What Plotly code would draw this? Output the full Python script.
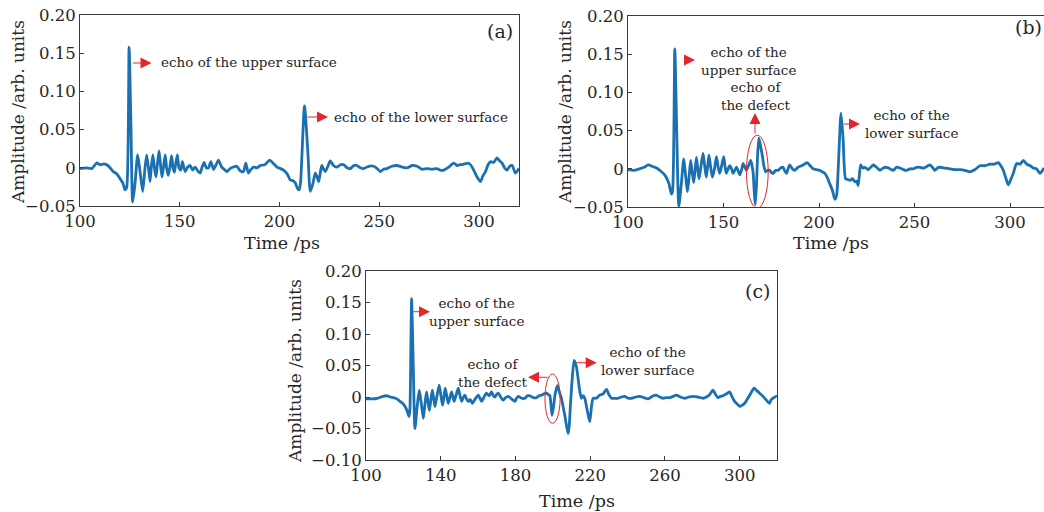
import plotly.graph_objects as go

# ---------------- data ----------------
t_a = [100, 103, 106, 108.4, 110, 112, 114, 116.7, 118.5, 120, 121.5, 122.6, 123.4, 124.6, 125.5, 126.4,
       127.6, 128.9, 130.1, 131.4, 132.4, 133.4, 134.3, 135.1, 135.7, 136.5, 137.3, 138.1, 138.8, 139.6,
       140.3, 141.1, 141.9, 142.7, 143.4, 144.2, 145.0, 145.9, 146.6, 147.3, 148.0, 148.8, 149.6, 150.5,
       151.3, 152.7, 154, 155.2, 156.5, 157.7, 159, 160.2, 161.2, 162.2, 163.3, 164.4, 165.6, 166.9,
       168.2, 169.4, 171, 172.3, 173.6, 175.2, 176.9, 178.6, 180.3, 181.9, 183.1, 184.4, 185.7, 187,
       188.7, 190.3, 192.6, 195, 196.8, 198.7, 200.4, 202, 203.8, 205.4, 206.8, 207.9, 209.0, 209.8,
       210.5, 212.5, 214.2, 215.4, 216.6, 217.9, 218.8, 219.6, 220.5, 221.2, 222.1, 222.9, 224.2, 225.4,
       227, 228.8, 230.5, 232.1, 233.8, 235.5, 237.2, 238.8, 240.5, 242.1, 244.6, 247.2, 248.9, 250.5,
       252.1, 253.8, 256.3, 258.9, 261.4, 263.9, 266.4, 268.9, 271.4, 273.9, 276.4, 278.9, 280.6, 282.3,
       284.8, 287.3, 289, 290.6, 292.7, 294.8, 296, 297.3, 299, 300.7, 302, 303.2, 304.5, 305.7, 307.3,
       309, 310.3, 311.5, 312.8, 314, 315.3, 316.6, 318.2, 320]
amp_a = [-0.001, 0.0, -0.001, 0.0065, 0.004, 0.005, 0.003, -0.005, -0.008, -0.014, -0.02, -0.029, -0.026,
         0.158, 0.06, -0.045, -0.02, 0.017, -0.005, -0.031, -0.005, 0.017, 0.0, -0.018, 0.0, 0.017, 0.0,
         -0.012, 0.005, 0.022, 0.005, -0.012, 0.002, 0.017, 0.0, -0.010, 0.0, 0.016, 0.0, -0.006, 0.006,
         0.017, 0.0, -0.003, 0.008, -0.005, 0.001, 0.003, -0.003, 0.001, -0.004, -0.007, 0.001, 0.007, 0.0,
         0.0, 0.008, -0.002, 0.004, 0.010, 0.001, -0.002, -0.005, -0.001, 0.001, 0.002, -0.004, -0.005,
         0.006, -0.007, -0.002, 0.001, 0.0, 0.003, 0.004, 0.010, 0.006, 0.001, -0.001, -0.003, -0.008,
         -0.016, -0.017, -0.020, -0.027, -0.029, -0.02, 0.081, 0.02, -0.031, -0.022, -0.007, -0.012, -0.018,
         -0.005, 0.003, -0.002, -0.005, 0.002, 0.009, 0.003, 0.001, 0.004, 0.004, 0.0, -0.001, 0.003, 0.003,
         0.0, -0.001, 0.002, 0.002, -0.001, -0.005, -0.002, -0.001, 0.002, 0.003, 0.001, 0.0, 0.003, 0.002,
         -0.002, -0.001, -0.002, -0.001, -0.003, -0.003, 0.001, 0.006, 0.003, 0.004, 0.005, 0.006, 0.003,
         -0.003, -0.012, -0.018, -0.01, -0.005, 0.004, 0.008, 0.007, 0.013, 0.009, 0.006, 0.0, -0.003,
         0.002, 0.003, -0.007, -0.001]

t_b = [100, 103, 106, 108.5, 110.5, 113, 115, 116.6, 118.5, 120, 121.5, 122.7, 123.3, 124.5, 125.5, 126.6,
       127.9, 129.2, 130.2, 131.1, 132.0, 132.8, 133.6, 134.4, 135.1, 135.8, 136.5, 137.2, 138.3, 139.3,
       140.2, 141.0, 141.7, 142.4, 143.3, 144.2, 145.3, 146.3, 147.2, 148.0, 149.1, 150.1, 150.8, 151.5,
       152.4, 153.3, 154.2, 155.0, 155.9, 156.8, 157.7, 158.5, 159.4, 160.3, 161.2, 162.0, 163.2, 164.3,
       165.0, 165.5, 166.1, 166.6, 167.3, 167.8, 168.5, 169.4, 170.4, 171.2, 172.1, 173.2, 174.2, 175.1,
       176, 177.3, 178.6, 179.9, 181.2, 182.1, 183, 183.8, 184.7, 186, 187.3, 189, 190.8, 192.3, 193.8,
       195.4, 196.9, 198.6, 200.4, 201.8, 203.1, 204.4, 205.7, 207, 208.3, 209.2, 210.4, 211.5, 212.6,
       213.9, 215, 216.2, 217.5, 218.8, 219.7, 220.5, 221.8, 222.9, 224, 225.8, 227.1, 228.4, 230.1,
       231.9, 233.6, 235.4, 237.1, 238.9, 240.6, 242.4, 244.1, 245.9, 247.6, 249.4, 251.1, 252.9, 254.6,
       256.4, 258.1, 259.4, 260.7, 262, 263.3, 265.9, 268.6, 271.2, 273.8, 276.4, 279.1, 281.7, 284.3,
       286.9, 289.5, 291.7, 293.9, 295.2, 296.5, 297.8, 299.1, 300.4, 301.7, 303.5, 305.2, 307, 308.8,
       310.5, 312.2, 313.9, 315.7, 317.8]
amp_b = [-0.001, -0.002, 0.0, 0.002, 0.005, 0.003, 0.001, -0.002, -0.006, -0.011, -0.02, -0.033, -0.03,
         0.157, 0.05, -0.049, -0.02, 0.013, -0.01, -0.030, -0.01, 0.011, -0.005, -0.018, -0.002, 0.015,
         0.0, -0.013, 0.005, 0.020, 0.003, -0.011, 0.003, 0.018, 0.002, -0.011, 0.0, 0.016, 0.002, -0.006,
         0.005, 0.016, 0.003, -0.006, 0.0, 0.004, 0.0, -0.006, -0.002, 0.002, -0.003, -0.008, -0.002, 0.007,
         0.002, -0.002, 0.005, 0.011, 0.003, -0.005, -0.03, -0.047, -0.02, 0.015, 0.040, 0.03, 0.016, 0.003,
         -0.004, -0.002, -0.002, -0.005, -0.006, -0.002, -0.002, 0.001, 0.002, -0.003, -0.006, 0.0, 0.005,
         0.0, -0.002, 0.002, 0.004, 0.006, 0.008, 0.004, 0.0, -0.001, -0.002, -0.004, -0.006, -0.012,
         -0.020, -0.028, -0.040, -0.035, 0.02, 0.073, 0.04, -0.013, -0.014, -0.015, -0.013, -0.017, -0.016,
         -0.022, 0.005, 0.001, 0.002, -0.001, 0.002, 0.005, 0.002, -0.002, 0.001, 0.002, 0.0, -0.002, 0.002,
         0.001, -0.001, -0.002, 0.0, 0.0, 0.002, 0.002, 0.001, 0.003, 0.005, 0.002, -0.002, 0.001, 0.002,
         0.001, 0.0, -0.001, -0.001, -0.002, -0.004, -0.001, 0.004, 0.004, 0.006, 0.006, 0.008, 0.004,
         -0.002, -0.012, -0.021, -0.014, -0.006, 0.007, 0.006, 0.011, 0.006, 0.004, 0.001, 0.0, -0.006,
         0.001]

t_c = [100, 103, 106, 109, 111, 113, 114.6, 116.5, 118.2, 119.6, 120.9, 122, 123, 123.5, 124.4, 125.3,
       126.2, 127.4, 128.5, 129.6, 130.7, 131.6, 132.4, 133.2, 133.9, 134.7, 135.5, 136.2, 136.9, 138.0,
       139.2, 140.1, 141.0, 141.7, 142.4, 143.2, 144.0, 144.9, 145.8, 146.5, 147.2, 148.3, 149.4, 150.3,
       151.2, 152.0, 152.9, 153.8, 154.7, 155.8, 156.9, 158.5, 160.1, 161.0, 161.9, 163.2, 164.5, 165.8,
       167.2, 168.1, 169, 169.9, 170.8, 172.1, 173.4, 174.7, 176.1, 177.9, 179.7, 180.6, 181.5, 183.3,
       185, 186.4, 187.7, 189.5, 191.3, 192.6, 193.9, 195.3, 196.6, 197.5, 198.4, 199.0, 199.6, 200.4,
       201.1, 201.8, 202.5, 203.5, 204.6, 205.5, 206.4, 207.3, 208.2, 208.8, 209.4, 210.4, 211.4, 212.5,
       213.5, 214.4, 215.3, 216.2, 217.1, 218.0, 218.9, 219.8, 220.7, 221.6, 223.3, 225.1, 226.9, 228.7,
       230.0, 231.4, 233.2, 234.9, 236.7, 238.5, 240.3, 242.1, 244.3, 246.5, 248.7, 251, 253.2, 255.4,
       257.2, 259, 260.8, 262.6, 264.4, 266.1, 268.3, 270.6, 272.8, 275, 277.7, 280.4, 282.2, 284, 285.7,
       287.1, 288.4, 289.7, 291.1, 292.9, 294.6, 296, 297.3, 298.7, 300, 301.4, 302.7, 304.4, 306, 307.7,
       309.2, 310.7, 312.5, 314.3, 315.2, 316, 316.9, 317.8, 319.6, 320]
amp_c = [-0.003, -0.003, -0.002, 0.001, 0.002, 0.0, -0.001, -0.003, -0.007, -0.010, -0.015, -0.022, -0.031,
         -0.02, 0.156, 0.05, -0.050, -0.015, 0.011, -0.01, -0.034, -0.01, 0.008, -0.008, -0.021, -0.005,
         0.011, -0.002, -0.015, 0.002, 0.019, 0.002, -0.013, 0.0, 0.014, 0.002, -0.010, -0.001, 0.008, 0.0,
         -0.007, 0.004, 0.014, 0.002, -0.007, -0.001, 0.003, -0.003, -0.007, -0.004, -0.010, -0.003, 0.003,
         -0.002, -0.007, 0.0, 0.006, 0.002, 0.008, 0.002, 0.0, 0.004, 0.006, 0.0, -0.005, -0.001, 0.001,
         -0.003, -0.007, -0.002, 0.001, -0.002, -0.002, 0.002, 0.002, -0.001, -0.001, 0.002, 0.003, 0.005,
         0.006, 0.004, 0.002, -0.012, -0.029, -0.015, 0.002, 0.012, 0.018, 0.008, -0.002, -0.015, -0.029,
         -0.045, -0.058, -0.045, -0.014, 0.03, 0.058, 0.05, 0.030, 0.010, -0.002, 0.002, -0.002, -0.015,
         -0.028, -0.039, -0.015, -0.002, -0.002, 0.003, 0.005, 0.012, 0.004, -0.002, -0.002, -0.002, 0.0,
         0.001, -0.002, -0.002, 0.0, 0.001, -0.001, -0.003, 0.001, 0.003, 0.0, -0.002, -0.001, -0.001, 0.001,
         0.003, 0.0, -0.002, 0.0, 0.001, 0.0, -0.002, 0.0, 0.004, 0.011, 0.004, -0.001, 0.001, 0.002, 0.005,
         0.008, 0.0, -0.007, -0.011, -0.015, -0.013, -0.010, -0.002, 0.006, 0.014, 0.01, 0.006, 0.001,
         -0.005, -0.008, -0.010, -0.004, -0.002, 0.001, 0.0]

x_ticks_ab = [100, 150, 200, 250, 300]
x_ticks_c = [100, 140, 180, 220, 260, 300]
y_ticks_ab = [-0.05, 0, 0.05, 0.10, 0.15, 0.20]
y_labels_ab = ["\u22120.05", "0", "0.05", "0.10", "0.15", "0.20"]
y_ticks_c = [-0.10, -0.05, 0, 0.05, 0.10, 0.15, 0.20]
y_labels_c = ["\u22120.10", "\u22120.05", "0", "0.05", "0.10", "0.15", "0.20"]

# ---------------- figure ----------------
W, H = 1044, 512
def px(x): return x / W
def py(y): return 1 - y / H

FONT = "DejaVu Serif"
LINE = "#1a70b0"
AX = "#3a3a3a"
TXT = "#262626"
RED = "#e3262b"

fig = go.Figure()
for t, a, xa, ya in [(t_a, amp_a, "x", "y"), (t_b, amp_b, "x2", "y2"), (t_c, amp_c, "x3", "y3")]:
    fig.add_trace(go.Scatter(x=t, y=a, xaxis=xa, yaxis=ya, mode="lines",
                             line=dict(color=LINE, width=2.8, shape="spline", smoothing=0.6),
                             showlegend=False, hoverinfo="skip"))

def xaxis(domain, ticks, anchor, rng):
    return dict(domain=domain, range=rng, anchor=anchor, tickvals=ticks, automargin=False,
                ticktext=[str(v) for v in ticks], showline=True, linecolor=AX, linewidth=1,
                mirror=True, ticks="inside", ticklen=4, tickcolor=AX, showgrid=False,
                zeroline=False, tickfont=dict(family=FONT, size=16.5, color=TXT))

def yaxis(domain, ticks, labels, anchor, rng, mirror=True):
    return dict(domain=domain, range=rng, anchor=anchor, tickvals=ticks, ticktext=labels,
                automargin=False, showline=True, linecolor=AX, linewidth=1, mirror=mirror,
                ticks="inside", ticklen=4, tickcolor=AX, showgrid=False, zeroline=False,
                tickfont=dict(family=FONT, size=16.5, color=TXT))

fig.update_layout(
    template="none",
    width=W, height=H, margin=dict(l=0, r=0, t=0, b=0, pad=0, autoexpand=False),
    paper_bgcolor="white", plot_bgcolor="white",
    xaxis=xaxis([px(80), px(519)], x_ticks_ab, "y", [100, 320]),
    yaxis=yaxis([py(206), py(15)], y_ticks_ab, y_labels_ab, "x", [-0.05, 0.20]),
    xaxis2=xaxis([px(628), 1.0], x_ticks_ab, "y2", [100, 317.8]),
    yaxis2=yaxis([py(207), py(16)], y_ticks_ab, y_labels_ab, "x2", [-0.05, 0.20], mirror=False),
    xaxis3=xaxis([px(366), px(777)], x_ticks_c, "y3", [100, 320]),
    yaxis3=yaxis([py(460), py(271)], y_ticks_c, y_labels_c, "x3", [-0.10, 0.20]),
)

ann = []
def text(x, y, s, size=13.5, anchor="center"):
    ann.append(dict(x=px(x), y=py(y), xref="paper", yref="paper", text=s, showarrow=False,
                    xanchor=anchor, yanchor="middle", align="center",
                    font=dict(family=FONT, size=size, color=TXT)))

def arrow(tx, ty, hx, hy):
    ann.append(dict(x=px(hx), y=py(hy), xref="paper", yref="paper", ax=tx - hx, ay=ty - hy,
                    axref="pixel", ayref="pixel", text="", showarrow=True, arrowhead=2,
                    arrowsize=2.2, arrowwidth=1, arrowcolor=RED))

def ytitle(x, y):
    ann.append(dict(x=px(x), y=py(y), xref="paper", yref="paper", text="Amplitude /arb. units",
                    showarrow=False, textangle=-90, xanchor="center", yanchor="middle",
                    font=dict(family=FONT, size=17, color=TXT)))

# axis titles
ytitle(18, 112); ytitle(565, 112); ytitle(295, 371)
text(282, 243, "Time /ps", 17.5); text(831, 243, "Time /ps", 17.5); text(577, 501, "Time /ps", 17.5)
# panel labels
text(500, 31, "(a)", 19); text(1028, 27, "(b)", 19); text(757, 291, "(c)", 19)

# panel (a)
arrow(131.5, 63, 151.5, 63)
text(159, 62, "echo of the upper surface", 13.5, "left")
arrow(306, 117, 328, 117)
text(332, 117, "echo of the lower surface", 13.5, "left")

# panel (b)
arrow(683, 60, 695, 60)
text(748, 61, "echo of the<br>upper surface")
arrow(755, 135, 755, 113)
text(756, 96, "echo of<br>the defect")
arrow(842, 124, 860, 124)
text(911, 123.5, "echo of the<br>lower surface")

# panel (c)
arrow(412, 311.7, 430, 311.7)
text(476, 311.7, "echo of the<br>upper surface")
arrow(549, 377.3, 528, 377.3)
text(493, 373, "echo of<br>the defect")
arrow(575, 362.7, 596.7, 362.7)
text(647, 360.8, "echo of the<br>lower surface")

fig.update_layout(annotations=ann)

# ellipses marking the defect echoes
fig.add_shape(type="circle", xref="x2", yref="y2", x0=162.0, x1=173.4, y0=-0.0516, y1=0.044,
              line=dict(color=RED, width=1))
fig.add_shape(type="circle", xref="x3", yref="y3", x0=195.8, x1=203.9, y0=-0.0417, y1=0.0365,
              line=dict(color=RED, width=1))

fig.write_html("out.html")
